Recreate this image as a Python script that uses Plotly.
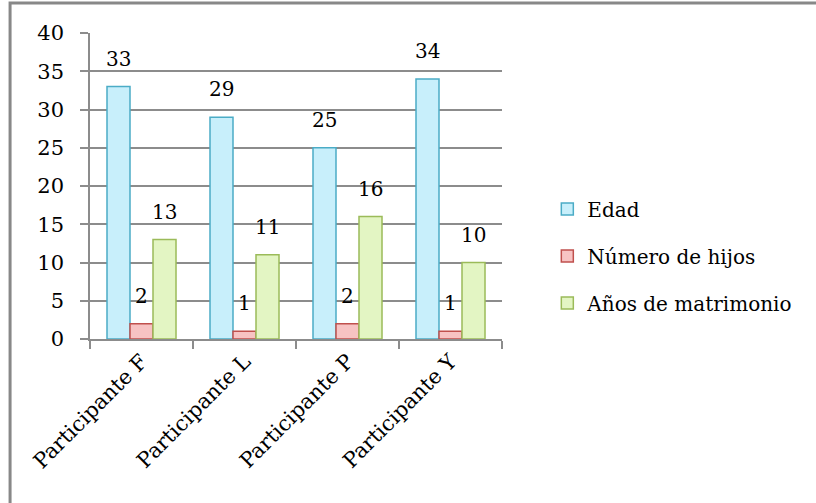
import plotly.graph_objects as go

categories = ["Participante F", "Participante L", "Participante P", "Participante Y"]
edad = [33, 29, 25, 34]
hijos = [2, 1, 2, 1]
anios = [13, 11, 16, 10]
series_names = ["Edad", "Número de hijos", "Años de matrimonio"]
y_ticks = [0, 5, 10, 15, 20, 25, 30, 35, 40]

FONT = "DejaVu Serif"
fills = ["#C8EFFB", "#F7C3C3", "#E3F5C3"]
borders = ["#4BACC6", "#C0504D", "#9BBB59"]

BARGAP = 0.33
CAT_PX = 410 / len(categories)
BAR_PX = CAT_PX * (1 - BARGAP) / 3

fig = go.Figure()
annotations = []
all_series = [edad, hijos, anios]
for i, (name, vals) in enumerate(zip(series_names, all_series)):
    fig.add_trace(go.Bar(
        x=categories, y=vals, name=name,
        legendgroup=name,
        marker=dict(color=fills[i], line=dict(color=borders[i], width=1.5)),
        cliponaxis=False,
    ))
    for c, v in zip(categories, vals):
        annotations.append(dict(
            x=c, y=v, xref="x", yref="y", text=str(v), showarrow=False,
            xanchor="center", yanchor="bottom",
            xshift=(i - 1) * BAR_PX, yshift=14,
            font=dict(family=FONT, size=20, color="black"),
        ))

fig.update_layout(
    width=816, height=503,
    margin=dict(l=90, r=314, t=33, b=164),
    paper_bgcolor="white", plot_bgcolor="white",
    barmode="group", bargap=BARGAP, bargroupgap=0,
    font=dict(family=FONT, size=20, color="black"),
    showlegend=True,
    legend=dict(x=1.11, xanchor="left", y=0.271, yanchor="middle",
                font=dict(family=FONT, size=20, color="black"),
                traceorder="grouped", tracegroupgap=18,
                itemwidth=30, bgcolor="rgba(0,0,0,0)"),
    annotations=annotations,
    shapes=[dict(type="rect", xref="paper", yref="paper",
                 x0=-0.194, x1=3, y0=-3, y1=1.098,
                 line=dict(color="#888888", width=3), layer="below")],
)
fig.update_yaxes(range=[0, 40], tickvals=y_ticks, showgrid=True,
                 gridcolor="#8C8C8C", gridwidth=1.5,
                 showline=True, linecolor="#8C8C8C", linewidth=1.5,
                 ticks="outside", ticklen=8, tickcolor="#8C8C8C", tickwidth=1.5,
                 ticklabelstandoff=12, zeroline=False,
                 tickfont=dict(family=FONT, size=21))
fig.update_xaxes(tickangle=-45, showline=True, linecolor="#8C8C8C", linewidth=1.5,
                 ticks="outside", ticklen=8, tickcolor="#8C8C8C", tickwidth=1.5,
                 tickson="boundaries", showgrid=False,
                 tickfont=dict(family=FONT, size=21))

fig.write_html("out.html")
